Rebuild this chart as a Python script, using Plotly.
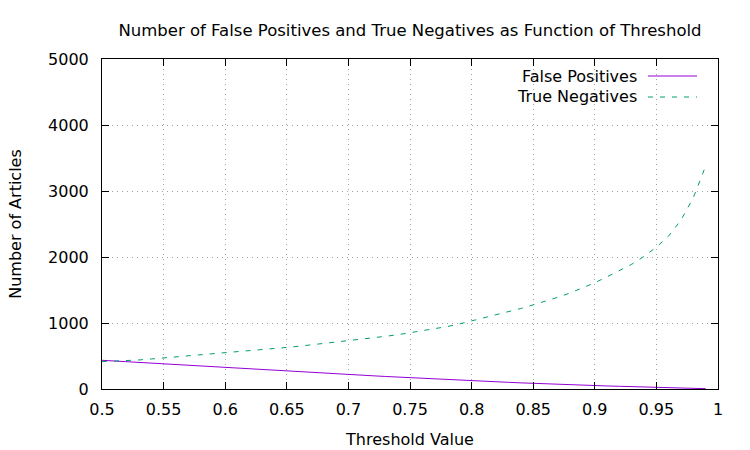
import plotly.graph_objects as go

thresholds = [0.50, 0.51, 0.52, 0.53, 0.54, 0.55, 0.56, 0.57, 0.58, 0.59,
              0.60, 0.61, 0.62, 0.63, 0.64, 0.65, 0.66, 0.67, 0.68, 0.69,
              0.70, 0.71, 0.72, 0.73, 0.74, 0.75, 0.76, 0.77, 0.78, 0.79,
              0.80, 0.81, 0.82, 0.83, 0.84, 0.85, 0.86, 0.87, 0.88, 0.89,
              0.90, 0.91, 0.92, 0.93, 0.94, 0.95, 0.96, 0.97, 0.98, 0.99]

false_positives = [435, 424, 413, 402, 391, 378, 367, 356, 345, 333,
                   322, 311, 300, 289, 278, 268, 258, 248, 238, 229,
                   220, 210, 200, 190, 180, 170, 161, 152, 143, 134,
                   125, 117, 109, 101, 93, 85, 78, 71, 64, 58,
                   52, 46, 41, 36, 30, 25, 20, 15, 10, 5]

true_negatives = [415, 420, 428, 440, 455, 470, 485, 500, 515, 530,
                  545, 560, 578, 595, 612, 630, 648, 668, 690, 712,
                  735, 755, 775, 798, 822, 850, 880, 910, 945, 985,
                  1030, 1075, 1120, 1170, 1220, 1275, 1330, 1390, 1455, 1530,
                  1610, 1700, 1790, 1890, 2010, 2150, 2320, 2560, 2900, 3380]

x_ticks = [0.5, 0.55, 0.6, 0.65, 0.7, 0.75, 0.8, 0.85, 0.9, 0.95, 1.0]
x_tick_labels = ["0.5", "0.55", "0.6", "0.65", "0.7", "0.75", "0.8", "0.85", "0.9", "0.95", "1"]
y_ticks = [0, 1000, 2000, 3000, 4000, 5000]

series_names = ["False Positives", "True Negatives"]
colors = ["#9400D3", "#009E73"]

W, H = 750, 450
L, R, T, B = 102, 32, 59, 61
FONT = "DejaVu Sans"
FS = 16

fig = go.Figure()
fig.add_trace(go.Scatter(x=thresholds, y=false_positives, mode="lines",
                         name=series_names[0],
                         line=dict(color=colors[0], width=1), showlegend=False))
fig.add_trace(go.Scatter(x=thresholds, y=true_negatives, mode="lines",
                         name=series_names[1],
                         line=dict(color=colors[1], width=1, dash="5px,7px"),
                         showlegend=False))

axis_common = dict(
    showline=True, linecolor="black", linewidth=1, mirror="allticks",
    ticks="inside", ticklen=7, tickcolor="black", tickwidth=1,
    showgrid=True, gridcolor="#a0a0a0", griddash="1px,4px", gridwidth=1,
    zeroline=False, automargin=False,
    tickfont=dict(family=FONT, size=FS, color="black"),
)

fig.update_xaxes(range=[0.5, 1.0], tickvals=x_ticks, ticktext=x_tick_labels,
                 ticklabelstandoff=6,
                 title=dict(text="Threshold Value", font=dict(family=FONT, size=FS, color="black"),
                            standoff=15),
                 **axis_common)
fig.update_yaxes(range=[0, 5000], tickvals=y_ticks,
                 ticklabelstandoff=9,
                 title=dict(text="Number of Articles", font=dict(family=FONT, size=FS, color="black"),
                            standoff=22),
                 **axis_common)

# gnuplot-style legend: text right-aligned, sample line to its right
pw = W - L - R
ph = H - T - B
def px_to_paper_x(px):
    return (px - L) / pw
def px_to_paper_y(py):
    return 1 - (py - T) / ph

legend_rows = [76, 97]
dashes = ["solid", "5px,7px"]
for name, col, yy, d in zip(series_names, colors, legend_rows, dashes):
    fig.add_annotation(x=px_to_paper_x(639), y=px_to_paper_y(yy), xref="paper", yref="paper",
                       text=name, showarrow=False, xanchor="right", yanchor="middle",
                       font=dict(family=FONT, size=FS, color="black"))
    fig.add_shape(type="line", xref="paper", yref="paper",
                  x0=px_to_paper_x(648), x1=px_to_paper_x(697),
                  y0=px_to_paper_y(yy), y1=px_to_paper_y(yy),
                  line=dict(color=col, width=1, dash=d))

fig.update_layout(
    width=W, height=H,
    margin=dict(l=L, r=R, t=T, b=B),
    paper_bgcolor="white", plot_bgcolor="white",
    title=dict(text="Number of False Positives and True Negatives as Function of Threshold",
               x=(L + pw / 2) / W, xanchor="center", y=1 - 30 / H, yanchor="middle",
               font=dict(family=FONT, size=16.5, color="black")),
)

fig.write_html("out.html")
